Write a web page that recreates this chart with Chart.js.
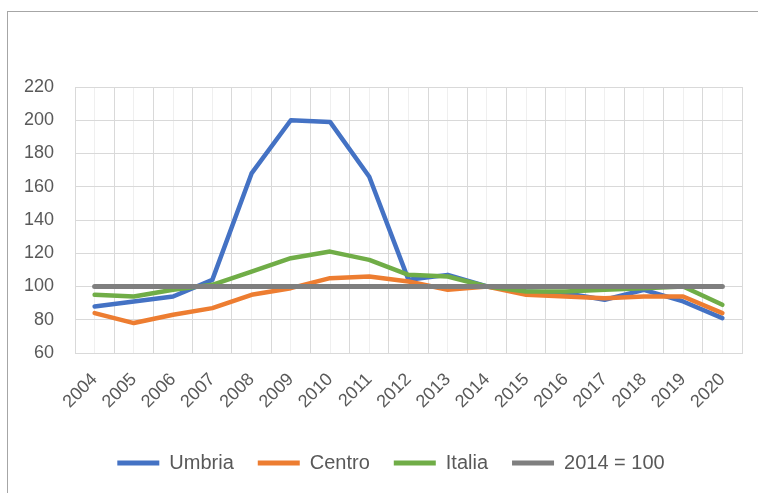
<!DOCTYPE html>
<html>
<head>
<meta charset="utf-8">
<script src="https://cdn.jsdelivr.net/npm/chart.js@4/dist/chart.umd.min.js"></script>
<style>
  html, body { margin: 0; padding: 0; background: #ffffff; overflow: hidden; }
  #wrap { position: relative; width: 758px; height: 493px; }
  #frame { position: absolute; left: 7px; top: 11px; width: 760px; height: 490px;
           border-left: 1px solid #a6a6a6; border-top: 1px solid #a6a6a6; }
  #c { position: absolute; left: 0; top: 0; }
</style>
</head>
<body>
<div id="wrap">
  <div id="frame"></div>
  <canvas id="c" width="758" height="493"></canvas>
</div>
<script>
// Indice 2014 = 100
const years = ['2004','2005','2006','2007','2008','2009','2010','2011','2012','2013','2014','2015','2016','2017','2018','2019','2020'];
const umbria = [88, 91, 94, 104, 168, 200, 199, 166, 104, 107, 100, 97, 96, 92, 98, 91, 81];
const centro = [84, 78, 83, 87, 95, 99, 105, 106, 103, 98, 100, 95, 94, 93, 94, 94, 84];
const italia = [95, 94, 98, 101, 109, 117, 121, 116, 107, 106, 100, 97, 97, 98, 99, 100, 89];
const base2014 = [100, 100, 100, 100, 100, 100, 100, 100, 100, 100, 100, 100, 100, 100, 100, 100, 100];
const yTicks = [60, 80, 100, 120, 140, 160, 180, 200, 220];

const FONT = "'Liberation Sans', Arial, sans-serif";
const TXT = '#595959';
const GRID = '#d9d9d9';

function line(label, data, color, width, order) {
  return {
    label, data, order,
    borderColor: color, backgroundColor: color,
    borderWidth: width, pointRadius: 0, pointHoverRadius: 0,
    tension: 0, borderJoinStyle: 'round', borderCapStyle: 'round', fill: false
  };
}

// nudge the legend row a little to the right of the canvas centre
const legendShift = {
  id: 'legendShift',
  afterLayout(chart) {
    if (chart.legend) { chart.legend.left += 8.5; chart.legend.right += 8.5; }
  }
};

new Chart(document.getElementById('c'), {
  type: 'line',
  data: {
    labels: years,
    datasets: [
      line('Umbria', umbria, '#4472C4', 4.5, 3),
      line('Centro', centro, '#ED7D31', 4.5, 2),
      line('Italia', italia, '#70AD47', 4.5, 1),
      line('2014 = 100', base2014, '#7F7F7F', 5, 0)
    ]
  },
  plugins: [legendShift],
  options: {
    responsive: false,
    animation: false,
    events: [],
    layout: { padding: { left: 23, right: 16, top: 87, bottom: 10 } },
    scales: {
      x: {
        type: 'category',
        offset: true,
        grid: { offset: true, color: GRID, lineWidth: 1, drawTicks: false },
        border: { color: GRID },
        ticks: { color: TXT, font: { family: FONT, size: 18 }, maxRotation: 45, minRotation: 45, padding: 16, autoSkip: false },
        afterFit(s) { s.height = 76; }
      },
      x2: {
        type: 'category',
        position: 'bottom',
        offset: true,
        grid: { offset: false, color: '#efefef', lineWidth: 1, drawTicks: false },
        border: { display: false },
        ticks: { display: false },
        afterFit(s) { s.height = 0; }
      },
      y: {
        min: 60, max: 220,
        afterBuildTicks(s) { s.ticks = yTicks.map(v => ({ value: v })); },
        grid: { color: GRID, lineWidth: 1, drawTicks: false },
        border: { color: GRID },
        ticks: { color: TXT, font: { family: FONT, size: 18 }, padding: 21 },
        afterFit(s) { s.width = 52; }
      }
    },
    plugins: {
      tooltip: { enabled: false },
      legend: {
        position: 'bottom',
        labels: {
          color: TXT,
          font: { family: FONT, size: 20 },
          boxWidth: 42, boxHeight: 5,
          padding: 24,
          sort: (a, b) => a.datasetIndex - b.datasetIndex,
          generateLabels(chart) {
            return Chart.defaults.plugins.legend.labels.generateLabels(chart)
              .map(l => Object.assign(l, { lineWidth: 0 }));
          }
        }
      }
    }
  }
});
</script>
</body>
</html>
